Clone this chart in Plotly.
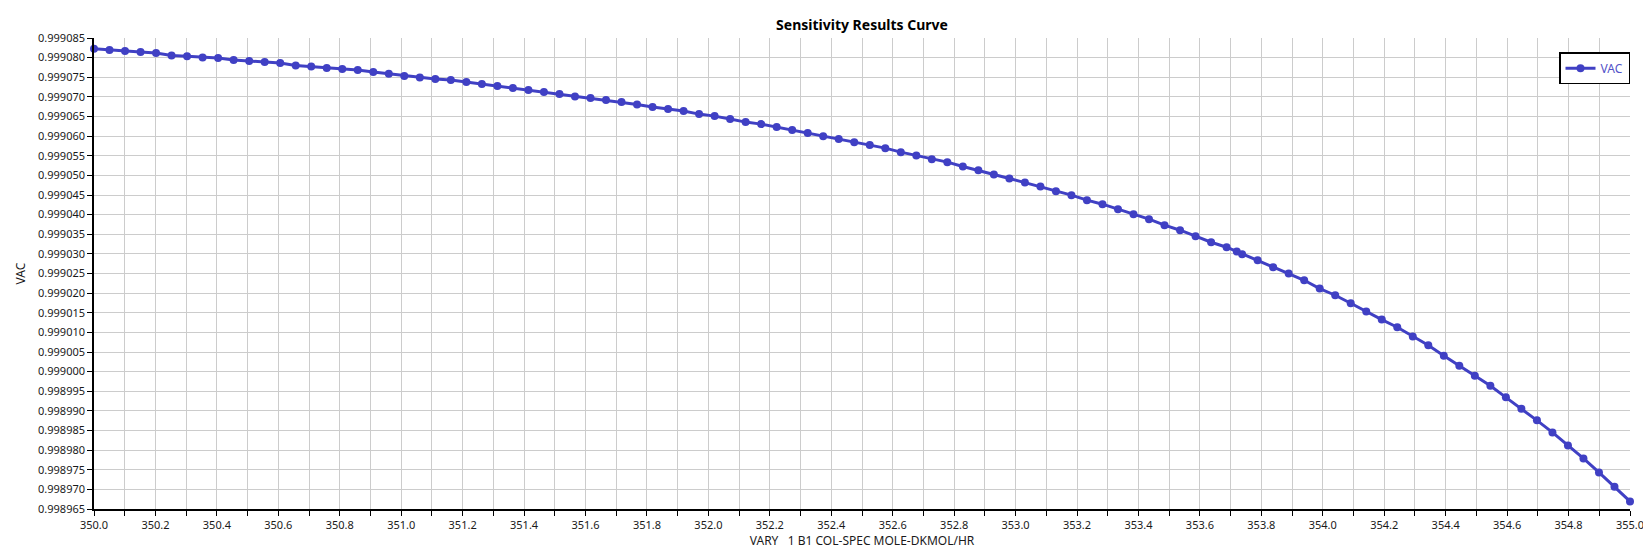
#!/usr/bin python3

# Imports
# ~~~~~~~~~~~~~~~~~~~~~~~~~~~~~~~~~~~~~~~~~~~~~~~~~~~~~~~~~~~~~~~~~~~~~~~~~~~~~~~~~~~~~~~~
# 3rd party:
from plotly import graph_objects as go

# ~~~~~~~~~~~~~~~~~~~~~~~~~~~~~~~~~~~~~~~~~~~~~~~~~~~~~~~~~~~~~~~~~~~~~~~~~~~~~~~~~~~~~~~~

TITLE = "Sensitivity Results Curve"
X_TITLE = "VARY\u00a0\u00a0\u00a01 B1 COL-SPEC MOLE-DKMOL/HR"
Y_TITLE = "VAC"
SERIES_NAME = "VAC"

# varied column spec (100 grid points plus the base case near 353.72)
vary_x = [
    350.0000, 350.0505, 350.1010, 350.1515, 350.2020, 350.2525, 350.3030, 350.3535,
    350.4040, 350.4545, 350.5051, 350.5556, 350.6061, 350.6566, 350.7071, 350.7576,
    350.8081, 350.8586, 350.9091, 350.9596, 351.0101, 351.0606, 351.1111, 351.1616,
    351.2121, 351.2626, 351.3131, 351.3636, 351.4141, 351.4646, 351.5152, 351.5657,
    351.6162, 351.6667, 351.7172, 351.7677, 351.8182, 351.8687, 351.9192, 351.9697,
    352.0202, 352.0707, 352.1212, 352.1717, 352.2222, 352.2727, 352.3232, 352.3737,
    352.4242, 352.4747, 352.5253, 352.5758, 352.6263, 352.6768, 352.7273, 352.7778,
    352.8283, 352.8788, 352.9293, 352.9798, 353.0303, 353.0808, 353.1313, 353.1818,
    353.2323, 353.2828, 353.3333, 353.3838, 353.4343, 353.4848, 353.5354, 353.5859,
    353.6364, 353.6869, 353.7200, 353.7374, 353.7879, 353.8384, 353.8889, 353.9394,
    353.9899, 354.0404, 354.0909, 354.1414, 354.1919, 354.2424, 354.2929, 354.3434,
    354.3939, 354.4444, 354.4949, 354.5455, 354.5960, 354.6465, 354.6970, 354.7475,
    354.7980, 354.8485, 354.8990, 354.9495, 355.0000,
]

vac = [
    0.99908227, 0.99908193, 0.99908168, 0.99908142, 0.99908117, 0.99908057, 0.99908032, 0.99908006,
    0.99907989, 0.99907938, 0.99907913, 0.99907887, 0.99907862, 0.99907802, 0.99907777, 0.99907734,
    0.99907709, 0.99907683, 0.99907632, 0.99907590, 0.99907530, 0.99907496, 0.99907454, 0.99907428,
    0.99907377, 0.99907326, 0.99907275, 0.99907224, 0.99907173, 0.99907122, 0.99907071, 0.99907012,
    0.99906969, 0.99906918, 0.99906867, 0.99906808, 0.99906740, 0.99906689, 0.99906638, 0.99906561,
    0.99906510, 0.99906434, 0.99906357, 0.99906306, 0.99906230, 0.99906153, 0.99906077, 0.99906000,
    0.99905924, 0.99905847, 0.99905771, 0.99905694, 0.99905592, 0.99905507, 0.99905414, 0.99905337,
    0.99905227, 0.99905133, 0.99905023, 0.99904921, 0.99904819, 0.99904717, 0.99904598, 0.99904496,
    0.99904368, 0.99904266, 0.99904139, 0.99904011, 0.99903884, 0.99903731, 0.99903603, 0.99903450,
    0.99903297, 0.99903170, 0.99903060, 0.99902991, 0.99902838, 0.99902660, 0.99902498, 0.99902328,
    0.99902116, 0.99901946, 0.99901742, 0.99901529, 0.99901325, 0.99901130, 0.99900892, 0.99900671,
    0.99900407, 0.99900152, 0.99899897, 0.99899642, 0.99899345, 0.99899056, 0.99898758, 0.99898452,
    0.99898121, 0.99897789, 0.99897432, 0.99897067, 0.99896693,
]

Y_TICKS = [0.998965 + 0.000005 * i for i in range(25)]

LINE_COLOUR = "#4040C4"
GRID_COLOUR = "#CCCCCC"
FONT = "Segoe UI, Noto Sans, Open Sans, sans-serif"


fig = go.Figure(
    go.Scatter(
        x=vary_x,
        y=vac,
        name=SERIES_NAME,
        mode="lines+markers",
        line={"color": LINE_COLOUR, "width": 3},
        marker={"color": LINE_COLOUR, "size": 8},
        cliponaxis=False,
        showlegend=True,
    )
)

fig.update_layout(
    width=1651,
    height=558,
    autosize=False,
    margin={"l": 86, "r": 29, "t": 30, "b": 57},
    paper_bgcolor="white",
    plot_bgcolor="white",
    font={"family": FONT, "size": 11, "color": "#1A1A1A"},
    title={
        "text": "<b>%s</b>" % TITLE,
        "x": 0.5,
        "xref": "paper",
        "y": 1 - 16.7 / 558,
        "yref": "container",
        "xanchor": "center",
        "yanchor": "middle",
        "font": {"family": FONT, "size": 14, "color": "black"},
    },
    legend={
        "x": 1,
        "y": 0.97,
        "xanchor": "right",
        "yanchor": "top",
        "bgcolor": "white",
        "bordercolor": "black",
        "borderwidth": 1.5,
        "font": {"family": FONT, "size": 12, "color": "#5252C8"},
        "itemwidth": 30,
    },
    xaxis={
        "range": [350, 355],
        "tick0": 350,
        "dtick": 0.2,
        "tickformat": ".1f",
        "ticks": "outside",
        "ticklen": 5,
        "tickcolor": "black",
        "showgrid": True,
        "gridcolor": GRID_COLOUR,
        "gridwidth": 1,
        "zeroline": False,
        "showline": True,
        "linecolor": "black",
        "linewidth": 1.5,
        "minor": {
            "dtick": 0.1,
            "tick0": 350,
            "ticks": "outside",
            "ticklen": 5,
            "tickcolor": "black",
            "showgrid": True,
            "gridcolor": GRID_COLOUR,
        },
        "title": {"text": X_TITLE, "standoff": 6, "font": {"family": FONT, "size": 12}},
        "automargin": False,
    },
    yaxis={
        "range": [0.998965, 0.999085],
        "tickmode": "array",
        "tickvals": Y_TICKS,
        "ticktext": ["%.6f" % v for v in Y_TICKS],
        "ticks": "outside",
        "ticklen": 5,
        "tickcolor": "black",
        "showgrid": True,
        "gridcolor": GRID_COLOUR,
        "gridwidth": 1,
        "zeroline": False,
        "showline": True,
        "linecolor": "black",
        "linewidth": 1.5,
        "title": {"text": Y_TITLE, "standoff": 10, "font": {"family": FONT, "size": 12}},
        "automargin": False,
    },
)

fig.write_html("out.html")
